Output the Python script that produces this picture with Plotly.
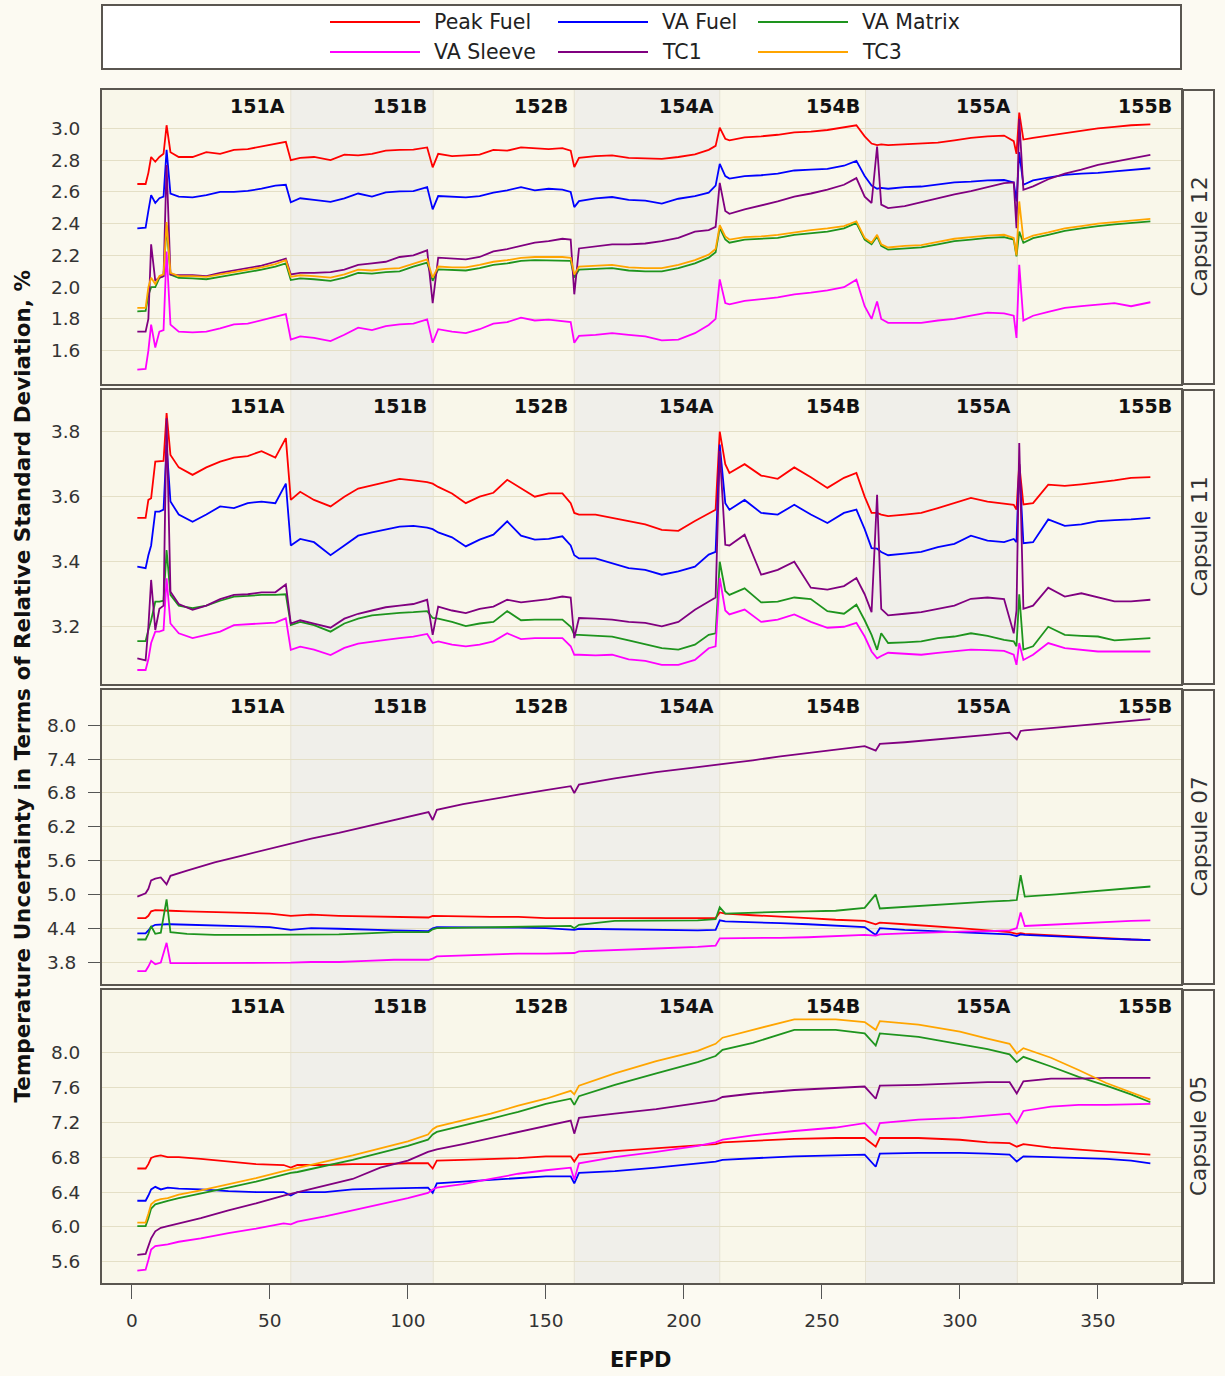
import plotly.graph_objects as go

W, H = 1225, 1376

# ---------------- data ----------------
SERIES = ["Peak Fuel", "VA Fuel", "VA Matrix", "VA Sleeve", "TC1", "TC3"]
COLORS = {"Peak Fuel": "#ff0000", "VA Fuel": "#0000ff", "VA Matrix": "#1e941e",
          "VA Sleeve": "#ff00ff", "TC1": "#800080", "TC3": "#ffa500"}

CYCLES = ["151A", "151B", "152B", "154A", "154B", "155A", "155B"]
CYCLE_ENDS = [57.6, 109.2, 160.3, 213.0, 265.8, 320.8]

X_TICKS = [0, 50, 100, 150, 200, 250, 300, 350]

# EFPD grid for Capsule 12 and Capsule 11
EFPD_A = [2, 5, 6, 7, 8.5, 10, 11.5, 12.6, 14, 17,
          22, 27, 32, 37, 42, 47, 52, 55.8, 57.6, 61,
          66, 72, 77, 82, 87, 92, 97, 102, 107, 109,
          111, 116, 121, 126, 131, 136, 141, 146, 151, 156,
          159, 160.3, 162, 168, 174, 180, 186, 192, 198, 204,
          209, 211.5, 213, 215, 216.5, 222, 228, 234, 240, 246,
          252, 258, 262.5, 265.5, 268, 270, 271.5, 274, 280, 286,
          292, 298, 304, 310, 316, 319.5, 320.5, 321.5, 323, 326.5,
          332, 338, 344, 350, 356, 362, 369]

# Capsule 12
C12_PEAK_FUEL = [2.65, 2.65, 2.72, 2.82, 2.79, 2.82, 2.84, 3.02, 2.85, 2.82,
                 2.82, 2.85, 2.84, 2.865, 2.87, 2.885, 2.90, 2.915, 2.80, 2.815,
                 2.82, 2.80, 2.835, 2.83, 2.84, 2.86, 2.865, 2.867, 2.88, 2.755,
                 2.84, 2.826, 2.83, 2.835, 2.865, 2.86, 2.88, 2.875, 2.87, 2.876,
                 2.86, 2.756, 2.815, 2.826, 2.83, 2.815, 2.81, 2.808, 2.82, 2.836,
                 2.865, 2.89, 3.005, 2.935, 2.925, 2.944, 2.95, 2.96, 2.975, 2.98,
                 2.99, 3.005, 3.02, 2.95, 2.905, 2.895, 2.90, 2.895, 2.90, 2.905,
                 2.91, 2.925, 2.94, 2.95, 2.955, 2.92, 2.84, 3.10, 2.93, 2.94,
                 2.955, 2.97, 2.985, 3.0, 3.01, 3.02, 3.026]
C12_VA_FUEL = [2.37, 2.375, 2.48, 2.58, 2.53, 2.56, 2.57, 2.865, 2.59, 2.57,
               2.565, 2.58, 2.60, 2.60, 2.607, 2.62, 2.64, 2.645, 2.535, 2.56,
               2.55, 2.537, 2.56, 2.59, 2.57, 2.597, 2.604, 2.605, 2.63, 2.49,
               2.574, 2.568, 2.565, 2.574, 2.595, 2.61, 2.63, 2.61, 2.62, 2.615,
               2.60, 2.504, 2.542, 2.56, 2.568, 2.55, 2.545, 2.526, 2.557, 2.574,
               2.595, 2.64, 2.777, 2.70, 2.684, 2.70, 2.705, 2.715, 2.735, 2.74,
               2.745, 2.765, 2.796, 2.70, 2.64, 2.62, 2.625, 2.62, 2.63, 2.634,
               2.645, 2.66, 2.665, 2.673, 2.675, 2.66, 2.54, 2.85, 2.645, 2.673,
               2.69, 2.707, 2.715, 2.72, 2.73, 2.74, 2.749]
C12_VA_MATRIX = [1.848, 1.85, 1.95, 2.0, 2.0, 2.058, 2.07, 2.39, 2.079, 2.058,
                 2.055, 2.05, 2.065, 2.08, 2.095, 2.11, 2.13, 2.15, 2.045, 2.055,
                 2.05, 2.04, 2.06, 2.09, 2.085, 2.095, 2.10, 2.13, 2.154, 2.04,
                 2.112, 2.108, 2.105, 2.12, 2.14, 2.15, 2.165, 2.17, 2.168, 2.17,
                 2.165, 2.06, 2.11, 2.115, 2.12, 2.105, 2.10, 2.10, 2.12, 2.15,
                 2.186, 2.22, 2.374, 2.30, 2.28, 2.30, 2.305, 2.31, 2.33, 2.342,
                 2.35, 2.37, 2.404, 2.30, 2.27, 2.32, 2.26, 2.236, 2.245, 2.25,
                 2.27, 2.29, 2.30, 2.31, 2.315, 2.30, 2.194, 2.35, 2.28, 2.309,
                 2.33, 2.355, 2.37, 2.385, 2.395, 2.405, 2.414]
C12_VA_SLEEVE = [1.48, 1.485, 1.60, 1.764, 1.62, 1.72, 1.73, 2.225, 1.764, 1.72,
                 1.715, 1.72, 1.74, 1.765, 1.77, 1.79, 1.81, 1.83, 1.67, 1.69,
                 1.68, 1.66, 1.70, 1.745, 1.73, 1.755, 1.765, 1.77, 1.797, 1.65,
                 1.735, 1.72, 1.71, 1.735, 1.77, 1.78, 1.808, 1.79, 1.795, 1.785,
                 1.78, 1.65, 1.693, 1.70, 1.71, 1.70, 1.69, 1.665, 1.67, 1.71,
                 1.762, 1.80, 2.049, 1.90, 1.892, 1.914, 1.925, 1.935, 1.955, 1.965,
                 1.98, 2.0, 2.047, 1.88, 1.80, 1.91, 1.80, 1.775, 1.775, 1.775,
                 1.79, 1.80, 1.82, 1.84, 1.835, 1.82, 1.68, 2.141, 1.79, 1.82,
                 1.845, 1.87, 1.88, 1.89, 1.90, 1.88, 1.905]
C12_TC1 = [1.72, 1.72, 1.80, 2.27, 2.04, 2.06, 2.07, 2.77, 2.08, 2.075,
           2.075, 2.07, 2.09, 2.105, 2.12, 2.135, 2.16, 2.18, 2.08, 2.09,
           2.09, 2.095, 2.11, 2.14, 2.15, 2.16, 2.19, 2.20, 2.232, 1.90,
           2.186, 2.18, 2.175, 2.19, 2.225, 2.24, 2.26, 2.28, 2.29, 2.305,
           2.30, 1.955, 2.244, 2.255, 2.27, 2.27, 2.275, 2.29, 2.31, 2.35,
           2.36, 2.38, 2.657, 2.48, 2.462, 2.49, 2.515, 2.54, 2.57, 2.59,
           2.615, 2.645, 2.687, 2.57, 2.53, 2.886, 2.52, 2.498, 2.51, 2.535,
           2.56, 2.585, 2.605, 2.63, 2.655, 2.66, 2.372, 3.06, 2.613, 2.635,
           2.68, 2.715, 2.74, 2.77, 2.79, 2.81, 2.833]
C12_TC3 = [1.87, 1.87, 2.0, 2.06, 2.02, 2.07, 2.08, 2.41, 2.09, 2.07,
           2.07, 2.065, 2.08, 2.095, 2.11, 2.125, 2.145, 2.17, 2.065, 2.075,
           2.07, 2.06, 2.08, 2.11, 2.105, 2.115, 2.12, 2.15, 2.175, 2.06,
           2.13, 2.125, 2.125, 2.14, 2.16, 2.17, 2.185, 2.19, 2.19, 2.19,
           2.185, 2.08, 2.13, 2.135, 2.14, 2.125, 2.12, 2.12, 2.14, 2.17,
           2.205, 2.24, 2.39, 2.32, 2.30, 2.315, 2.32, 2.33, 2.345, 2.36,
           2.37, 2.385, 2.415, 2.31, 2.28, 2.33, 2.27, 2.25, 2.26, 2.265,
           2.285, 2.305, 2.315, 2.325, 2.33, 2.31, 2.20, 2.54, 2.30, 2.325,
           2.345, 2.37, 2.385, 2.40, 2.41, 2.42, 2.43]

# Capsule 11
C11_PEAK_FUEL = [3.535, 3.535, 3.59, 3.595, 3.708, 3.708, 3.71, 3.857, 3.728, 3.69,
                 3.667, 3.69, 3.708, 3.72, 3.725, 3.74, 3.72, 3.78, 3.59, 3.615,
                 3.59, 3.57, 3.60, 3.625, 3.635, 3.645, 3.655, 3.65, 3.645, 3.64,
                 3.63, 3.61, 3.58, 3.60, 3.612, 3.652, 3.625, 3.60, 3.61, 3.61,
                 3.58, 3.55, 3.545, 3.545, 3.535, 3.525, 3.515, 3.498, 3.495, 3.525,
                 3.55, 3.56, 3.80, 3.70, 3.673, 3.70, 3.665, 3.655, 3.69, 3.66,
                 3.627, 3.658, 3.673, 3.60, 3.55, 3.55, 3.545, 3.54, 3.545, 3.55,
                 3.565, 3.58, 3.596, 3.585, 3.58, 3.575, 3.56, 3.70, 3.576, 3.58,
                 3.637, 3.633, 3.638, 3.643, 3.65, 3.658, 3.66]
C11_VA_FUEL = [3.385, 3.38, 3.42, 3.45, 3.554, 3.554, 3.56, 3.759, 3.585, 3.545,
               3.523, 3.545, 3.57, 3.565, 3.58, 3.585, 3.58, 3.64, 3.45, 3.47,
               3.46, 3.42, 3.45, 3.48, 3.49, 3.50, 3.508, 3.51, 3.505, 3.50,
               3.49, 3.475, 3.447, 3.468, 3.483, 3.524, 3.48, 3.468, 3.47, 3.478,
               3.45, 3.42, 3.41, 3.41, 3.395, 3.38, 3.375, 3.36, 3.37, 3.385,
               3.422, 3.43, 3.76, 3.58, 3.56, 3.59, 3.55, 3.545, 3.575, 3.545,
               3.519, 3.55, 3.56, 3.50, 3.442, 3.44, 3.43, 3.42, 3.425, 3.43,
               3.445, 3.455, 3.48, 3.465, 3.46, 3.47, 3.46, 3.70, 3.457, 3.46,
               3.53, 3.51, 3.515, 3.525, 3.528, 3.53, 3.535]
C11_VA_MATRIX = [3.156, 3.156, 3.19, 3.22, 3.277, 3.277, 3.28, 3.436, 3.298, 3.265,
                 3.257, 3.265, 3.28, 3.293, 3.295, 3.298, 3.298, 3.30, 3.205, 3.215,
                 3.205, 3.185, 3.21, 3.225, 3.235, 3.24, 3.243, 3.245, 3.248, 3.227,
                 3.225, 3.215, 3.202, 3.21, 3.215, 3.248, 3.22, 3.222, 3.222, 3.222,
                 3.20, 3.175, 3.175, 3.172, 3.17, 3.158, 3.145, 3.134, 3.13, 3.145,
                 3.175, 3.18, 3.40, 3.31, 3.298, 3.318, 3.275, 3.277, 3.29, 3.285,
                 3.248, 3.24, 3.268, 3.22, 3.175, 3.129, 3.18, 3.15, 3.152, 3.155,
                 3.165, 3.17, 3.18, 3.172, 3.16, 3.155, 3.14, 3.30, 3.13, 3.14,
                 3.20, 3.175, 3.172, 3.17, 3.158, 3.162, 3.165]
C11_VA_SLEEVE = [3.067, 3.067, 3.10, 3.15, 3.185, 3.185, 3.19, 3.349, 3.21, 3.18,
                 3.165, 3.175, 3.185, 3.205, 3.208, 3.212, 3.213, 3.226, 3.129, 3.139,
                 3.13, 3.113, 3.135, 3.148, 3.155, 3.16, 3.165, 3.17, 3.178, 3.15,
                 3.155, 3.145, 3.14, 3.145, 3.155, 3.18, 3.162, 3.165, 3.165, 3.165,
                 3.14, 3.114, 3.114, 3.112, 3.114, 3.10, 3.095, 3.083, 3.083, 3.098,
                 3.134, 3.14, 3.35, 3.25, 3.238, 3.253, 3.215, 3.222, 3.238, 3.215,
                 3.197, 3.20, 3.212, 3.17, 3.124, 3.103, 3.11, 3.12, 3.117, 3.114,
                 3.12, 3.124, 3.13, 3.128, 3.126, 3.114, 3.083, 3.15, 3.098, 3.114,
                 3.15, 3.134, 3.13, 3.124, 3.124, 3.124, 3.124]
C11_TC1 = [3.103, 3.097, 3.20, 3.344, 3.19, 3.255, 3.265, 3.841, 3.308, 3.27,
           3.252, 3.265, 3.285, 3.298, 3.30, 3.306, 3.306, 3.33, 3.21, 3.22,
           3.21, 3.197, 3.225, 3.24, 3.25, 3.26, 3.265, 3.27, 3.283, 3.175,
           3.262, 3.25, 3.242, 3.255, 3.262, 3.283, 3.275, 3.28, 3.285, 3.293,
           3.29, 3.165, 3.227, 3.225, 3.222, 3.215, 3.212, 3.201, 3.215, 3.252,
           3.278, 3.29, 3.74, 3.452, 3.45, 3.483, 3.36, 3.375, 3.40, 3.32,
           3.314, 3.325, 3.35, 3.30, 3.245, 3.606, 3.255, 3.235, 3.24, 3.245,
           3.255, 3.265, 3.286, 3.29, 3.285, 3.18, 3.25, 3.765, 3.255, 3.265,
           3.32, 3.293, 3.303, 3.29, 3.278, 3.278, 3.283]

# EFPD grid for Capsule 07
EFPD_B = [2, 5, 6, 7, 8.5, 10.5, 12.6, 14, 20, 30,
          40, 50, 57.6, 65, 75, 85, 95, 107.5, 109, 110.5,
          120, 130, 140, 150, 159, 160.3, 162, 175, 190, 205,
          211.5, 213, 215, 225, 235, 245, 255, 265.5, 269.5, 271,
          280, 290, 300, 310, 318, 320.6, 322, 323.5, 335, 345,
          355, 362, 369]
C07_PEAK_FUEL = [4.58, 4.58, 4.62, 4.70, 4.72, 4.72, 4.72, 4.71, 4.70, 4.69,
                 4.67, 4.66, 4.62, 4.64, 4.62, 4.61, 4.60, 4.59, 4.62, 4.62,
                 4.61, 4.60, 4.60, 4.58, 4.58, 4.58, 4.58, 4.58, 4.57, 4.58,
                 4.58, 4.68, 4.66, 4.63, 4.61, 4.58, 4.55, 4.53, 4.47, 4.50,
                 4.47, 4.44, 4.40, 4.36, 4.33, 4.30, 4.31, 4.30, 4.27, 4.24,
                 4.21, 4.20, 4.19]
C07_VA_FUEL = [4.31, 4.31, 4.36, 4.42, 4.46, 4.47, 4.47, 4.47, 4.46, 4.45,
               4.43, 4.42, 4.37, 4.40, 4.39, 4.37, 4.36, 4.35, 4.40, 4.42,
               4.42, 4.42, 4.41, 4.40, 4.38, 4.37, 4.39, 4.38, 4.36, 4.36,
               4.37, 4.54, 4.52, 4.51, 4.49, 4.47, 4.44, 4.42, 4.28, 4.40,
               4.37, 4.35, 4.33, 4.31, 4.29, 4.26, 4.29, 4.28, 4.25, 4.23,
               4.21, 4.20, 4.19]
C07_VA_MATRIX = [4.20, 4.20, 4.30, 4.44, 4.30, 4.32, 4.91, 4.33, 4.30, 4.28,
                 4.28, 4.28, 4.28, 4.29, 4.29, 4.31, 4.33, 4.33, 4.38, 4.40,
                 4.41, 4.41, 4.42, 4.43, 4.44, 4.40, 4.46, 4.53, 4.53, 4.54,
                 4.56, 4.77, 4.66, 4.68, 4.69, 4.70, 4.71, 4.76, 5.00, 4.75,
                 4.78, 4.81, 4.84, 4.87, 4.89, 4.90, 5.34, 4.96, 5.00, 5.04,
                 5.08, 5.11, 5.14]
C07_VA_SLEEVE = [3.64, 3.64, 3.72, 3.82, 3.76, 3.79, 4.14, 3.78, 3.78, 3.78,
                 3.78, 3.79, 3.79, 3.80, 3.80, 3.82, 3.84, 3.84, 3.86, 3.90,
                 3.92, 3.94, 3.95, 3.95, 3.96, 3.96, 3.99, 4.01, 4.04, 4.07,
                 4.09, 4.22, 4.22, 4.22, 4.23, 4.24, 4.26, 4.28, 4.27, 4.29,
                 4.31, 4.33, 4.34, 4.35, 4.36, 4.40, 4.68, 4.44, 4.47, 4.49,
                 4.51, 4.53, 4.54]
C07_TC1 = [4.96, 5.02, 5.10, 5.25, 5.28, 5.30, 5.18, 5.33, 5.42, 5.57,
           5.69, 5.81, 5.90, 5.99, 6.09, 6.20, 6.31, 6.46, 6.32, 6.50,
           6.60, 6.69, 6.77, 6.85, 6.92, 6.80, 6.95, 7.06, 7.17, 7.26,
           7.30, 7.30, 7.31, 7.38, 7.45, 7.51, 7.57, 7.63, 7.55, 7.67,
           7.70, 7.74, 7.78, 7.83, 7.87, 7.75, 7.90, 7.91, 7.96, 8.00,
           8.05, 8.08, 8.11]

# EFPD grid for Capsule 05
EFPD_C = [2, 5, 6, 7, 8.5, 10.5, 13, 17, 25, 35,
          45, 55, 57.6, 60, 70, 80, 90, 100, 107.3, 109,
          110.5, 120, 130, 140, 150, 159, 160.3, 162, 175, 190,
          205, 211.5, 214, 225, 240, 255, 265.5, 269.5, 271, 285,
          300, 310, 318, 320.6, 323, 333, 343, 353, 362, 369]
C05_PEAK_FUEL = [6.67, 6.67, 6.72, 6.79, 6.81, 6.82, 6.80, 6.80, 6.78, 6.75,
                 6.72, 6.71, 6.68, 6.71, 6.71, 6.72, 6.72, 6.73, 6.73, 6.67,
                 6.76, 6.77, 6.78, 6.79, 6.81, 6.81, 6.75, 6.83, 6.87, 6.90,
                 6.93, 6.95, 6.97, 6.99, 7.01, 7.02, 7.02, 6.92, 7.02, 7.02,
                 7.00, 6.97, 6.96, 6.92, 6.95, 6.91, 6.89, 6.87, 6.85, 6.83]
C05_VA_FUEL = [6.30, 6.30, 6.36, 6.43, 6.46, 6.43, 6.45, 6.44, 6.43, 6.41,
               6.40, 6.40, 6.36, 6.40, 6.40, 6.43, 6.44, 6.45, 6.45, 6.39,
               6.50, 6.52, 6.54, 6.56, 6.58, 6.58, 6.50, 6.62, 6.64, 6.68,
               6.73, 6.75, 6.77, 6.79, 6.81, 6.82, 6.83, 6.69, 6.84, 6.85,
               6.85, 6.84, 6.83, 6.75, 6.81, 6.80, 6.79, 6.78, 6.76, 6.73]
C05_VA_MATRIX = [6.01, 6.01, 6.10, 6.21, 6.26, 6.28, 6.30, 6.33, 6.38, 6.45,
                 6.52, 6.60, 6.62, 6.63, 6.70, 6.77, 6.85, 6.93, 7.00, 7.06,
                 7.09, 7.16, 7.24, 7.32, 7.41, 7.47, 7.40, 7.50, 7.63, 7.76,
                 7.89, 7.96, 8.03, 8.11, 8.26, 8.26, 8.22, 8.08, 8.22, 8.18,
                 8.10, 8.04, 7.98, 7.89, 7.95, 7.84, 7.72, 7.62, 7.52, 7.43]
C05_VA_SLEEVE = [5.50, 5.51, 5.62, 5.74, 5.78, 5.79, 5.80, 5.83, 5.87, 5.93,
                 5.98, 6.04, 6.03, 6.06, 6.12, 6.19, 6.26, 6.33, 6.39, 6.43,
                 6.45, 6.49, 6.55, 6.61, 6.65, 6.68, 6.54, 6.73, 6.80, 6.86,
                 6.93, 6.97, 7.00, 7.05, 7.10, 7.14, 7.19, 7.06, 7.19, 7.23,
                 7.25, 7.28, 7.30, 7.19, 7.33, 7.38, 7.40, 7.40, 7.41, 7.41]
C05_TC1 = [5.68, 5.69, 5.78, 5.87, 5.95, 5.99, 6.01, 6.04, 6.10, 6.19,
           6.27, 6.36, 6.38, 6.40, 6.47, 6.55, 6.68, 6.76, 6.86, 6.88,
           6.89, 6.95, 7.02, 7.09, 7.16, 7.22, 7.07, 7.25, 7.30, 7.35,
           7.42, 7.45, 7.49, 7.53, 7.57, 7.59, 7.61, 7.47, 7.62, 7.63,
           7.65, 7.66, 7.66, 7.53, 7.67, 7.70, 7.70, 7.71, 7.71, 7.71]
C05_TC3 = [6.05, 6.05, 6.15, 6.26, 6.30, 6.32, 6.33, 6.37, 6.42, 6.49,
           6.56, 6.64, 6.66, 6.68, 6.75, 6.82, 6.90, 6.98, 7.06, 7.12,
           7.15, 7.22, 7.30, 7.39, 7.47, 7.56, 7.52, 7.62, 7.76, 7.90,
           8.02, 8.10, 8.17, 8.26, 8.38, 8.38, 8.35, 8.26, 8.36, 8.32,
           8.24, 8.16, 8.10, 7.99, 8.05, 7.94, 7.80, 7.65, 7.54, 7.46]

PANELS = [
    {"name": "Capsule 12", "x": EFPD_A,
     "series": {"Peak Fuel": C12_PEAK_FUEL, "VA Fuel": C12_VA_FUEL, "VA Matrix": C12_VA_MATRIX,
                "VA Sleeve": C12_VA_SLEEVE, "TC1": C12_TC1, "TC3": C12_TC3},
     "yrange": [1.39, 3.242], "yticks": [1.6, 1.8, 2.0, 2.2, 2.4, 2.6, 2.8, 3.0], "tickmarks": False},
    {"name": "Capsule 11", "x": EFPD_A,
     "series": {"Peak Fuel": C11_PEAK_FUEL, "VA Fuel": C11_VA_FUEL, "VA Matrix": C11_VA_MATRIX,
                "VA Sleeve": C11_VA_SLEEVE, "TC1": C11_TC1},
     "yrange": [3.024, 3.928], "yticks": [3.2, 3.4, 3.6, 3.8], "tickmarks": False},
    {"name": "Capsule 07", "x": EFPD_B,
     "series": {"Peak Fuel": C07_PEAK_FUEL, "VA Fuel": C07_VA_FUEL, "VA Matrix": C07_VA_MATRIX,
                "VA Sleeve": C07_VA_SLEEVE, "TC1": C07_TC1},
     "yrange": [3.41, 8.627], "yticks": [3.8, 4.4, 5.0, 5.6, 6.2, 6.8, 7.4, 8.0], "tickmarks": True},
    {"name": "Capsule 05", "x": EFPD_C,
     "series": {"Peak Fuel": C05_PEAK_FUEL, "VA Fuel": C05_VA_FUEL, "VA Matrix": C05_VA_MATRIX,
                "VA Sleeve": C05_VA_SLEEVE, "TC1": C05_TC1, "TC3": C05_TC3},
     "yrange": [5.357, 8.717], "yticks": [5.6, 6.0, 6.4, 6.8, 7.2, 7.6, 8.0], "tickmarks": False},
]

# ---------------- style / layout ----------------
PAPER = "#fcfaf2"
PLOT_BG = "#f9f7ea"
BAND_GRAY = "#f0efea"
GRID = "#e4dfc6"
FRAME = "#5a5650"
TXT = "#333333"
FONT = "DejaVu Sans"

X_RANGE = [-10.8, 380.1]
PLOT_L, PLOT_R = 102, 1181
STRIP_R = 1214
PANEL_PX = [(90, 384), (390, 684), (690, 984), (990, 1283)]


def px_x(p):
    return p / W


def px_y(p):
    return 1 - p / H


fig = go.Figure()
layout = dict(
    width=W, height=H,
    paper_bgcolor=PAPER, plot_bgcolor=PLOT_BG,
    margin=dict(l=0, r=0, t=0, b=0),
    showlegend=False,
    font=dict(family=FONT, size=17, color=TXT),
)
shapes = []
annotations = []

for i, panel in enumerate(PANELS):
    n = i + 1
    xref = "x" if n == 1 else f"x{n}"
    yref = "y" if n == 1 else f"y{n}"
    xkey = "xaxis" if n == 1 else f"xaxis{n}"
    ykey = "yaxis" if n == 1 else f"yaxis{n}"
    top, bot = PANEL_PX[i]
    last = (n == len(PANELS))

    for s in SERIES:
        if s in panel["series"]:
            fig.add_trace(go.Scatter(
                x=panel["x"], y=panel["series"][s], mode="lines", name=s,
                line=dict(color=COLORS[s], width=1.8), xaxis=xref, yaxis=yref,
                hoverinfo="skip"))

    layout[xkey] = dict(
        domain=[px_x(PLOT_L), px_x(PLOT_R)], range=X_RANGE, anchor=yref,
        showgrid=False, zeroline=False, showline=True, mirror=True,
        linecolor=FRAME, linewidth=2,
        tickvals=X_TICKS if last else [], showticklabels=last,
        ticks="outside" if last else "", ticklen=14, tickcolor="#555555",
        ticklabelstandoff=6,
        tickfont=dict(family=FONT, size=18.5, color=TXT),
    )
    layout[ykey] = dict(
        domain=[px_y(bot), px_y(top)], range=panel["yrange"], anchor=xref,
        tickvals=panel["yticks"], ticktext=[f"{v:.1f}" for v in panel["yticks"]],
        showgrid=True, gridcolor=GRID, gridwidth=1, zeroline=False,
        showline=True, mirror=True, linecolor=FRAME, linewidth=2,
        ticks="outside" if panel["tickmarks"] else "", ticklen=12, tickcolor="#555555",
        ticklabelstandoff=8 if panel["tickmarks"] else 16,
        tickfont=dict(family=FONT, size=18.5, color=TXT),
    )

    # cycle bands
    edges = [X_RANGE[0]] + CYCLE_ENDS + [X_RANGE[1]]
    for k in range(len(CYCLES)):
        if k % 2 == 1:
            shapes.append(dict(type="rect", xref=xref, yref=f"{yref} domain",
                               x0=edges[k], x1=edges[k + 1], y0=0, y1=1,
                               fillcolor=BAND_GRAY, line=dict(width=0), layer="below"))
    for b in CYCLE_ENDS:
        shapes.append(dict(type="line", xref=xref, yref=f"{yref} domain",
                           x0=b, x1=b, y0=0, y1=1,
                           line=dict(color="#e6e2d2", width=1), layer="below"))
    for k, lab in enumerate(CYCLES):
        annotations.append(dict(
            text=f"<b>{lab}</b>", x=edges[k + 1], y=1, xref=xref, yref=f"{yref} domain",
            xanchor="right", yanchor="top", xshift=-4 if k < len(CYCLES) - 1 else -7,
            yshift=-3, showarrow=False, font=dict(family=FONT, size=19, color="#111111")))

    # right strip
    shapes.append(dict(type="rect", xref="paper", yref="paper",
                       x0=px_x(PLOT_R + 2), x1=px_x(STRIP_R), y0=px_y(bot), y1=px_y(top),
                       fillcolor=PAPER, line=dict(color=FRAME, width=2)))
    annotations.append(dict(
        text=panel["name"], x=px_x((PLOT_R + STRIP_R) / 2 + 1), y=px_y((top + bot) / 2),
        xref="paper", yref="paper", textangle=-90, showarrow=False,
        xanchor="center", yanchor="middle", font=dict(family=FONT, size=21.5, color=TXT)))

# legend box
shapes.append(dict(type="rect", xref="paper", yref="paper",
                   x0=px_x(PLOT_L), x1=px_x(PLOT_R), y0=px_y(69), y1=px_y(5),
                   fillcolor="#ffffff", line=dict(color=FRAME, width=2)))
LEG_LINE_X = [330, 558, 758]
LEG_ROW_Y = [22, 52]
for j, s in enumerate(SERIES):
    r, c = divmod(j, 3)
    lx = LEG_LINE_X[c]
    ly = LEG_ROW_Y[r]
    shapes.append(dict(type="line", xref="paper", yref="paper",
                       x0=px_x(lx), x1=px_x(lx + 90), y0=px_y(ly), y1=px_y(ly),
                       line=dict(color=COLORS[s], width=2)))
    annotations.append(dict(text=s, x=px_x(lx + 102), y=px_y(ly), xref="paper", yref="paper",
                            xanchor="left", yanchor="middle", showarrow=False,
                            font=dict(family=FONT, size=20.5, color="#222222")))

# axis titles
annotations.append(dict(
    text="<b>Temperature Uncertainty in Terms of Relative Standard Deviation, %</b>",
    x=px_x(22), y=px_y((90 + 1283) / 2), xref="paper", yref="paper", textangle=-90,
    showarrow=False, xanchor="center", yanchor="middle",
    font=dict(family=FONT, size=21.5, color="#111111")))
annotations.append(dict(
    text="<b>EFPD</b>", x=px_x(641), y=px_y(1360), xref="paper", yref="paper",
    showarrow=False, xanchor="center", yanchor="middle",
    font=dict(family=FONT, size=21, color="#111111")))

layout["shapes"] = shapes
layout["annotations"] = annotations
fig.update_layout(**layout)

fig.write_html("out.html",
               config={"displayModeBar": False},
               post_script="document.body.style.margin='0px';"
                           "document.body.style.background='" + PAPER + "';")
